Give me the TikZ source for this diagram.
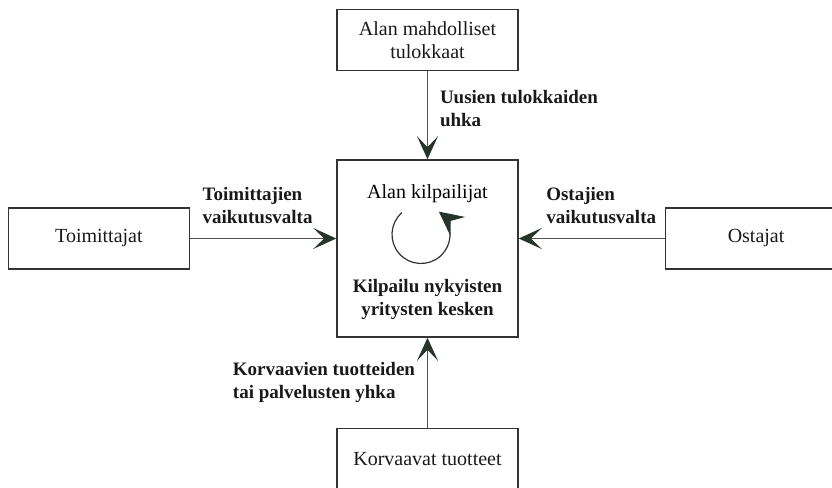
\documentclass[tikz,border=0pt]{standalone}
\usepackage{fontspec}
\setmainfont{Liberation Serif}
\usetikzlibrary{arrows.meta,positioning}
\usepackage{xcolor}
\definecolor{karki}{HTML}{26342B}
\definecolor{viiva}{HTML}{333333}

\begin{document}
\begin{tikzpicture}[
  node distance=45pt,
  laatikko/.style={rectangle, draw=viiva, line width=0.8pt, minimum width=90.5pt, minimum height=30.5pt, align=center, text=black!90, font=\rmfamily\fontsize{10}{11.7}\selectfont},
  nuoli/.style={-{Stealth[length=11.5pt, width=10.5pt, inset=5.5pt, color=karki]}, draw=viiva!85, line width=0.5pt},
  selite/.style={font=\rmfamily\bfseries\fontsize{9.5}{11.5}\selectfont, align=left, inner sep=1pt, text=black!90}
]
\useasboundingbox (0,0) rectangle (416pt,244pt);
\clip (0,0) rectangle (416pt,244pt);
\node[laatikko, minimum height=88.5pt] (k) at (213.75pt,119.75pt) {};
\node[laatikko, above=44pt of k] (u) {Alan mahdolliset\\tulokkaat};
\node[laatikko, left=73pt of k, yshift=5pt] (t) {Toimittajat};
\node[laatikko, right=73pt of k, yshift=5pt] (o) {Ostajat};
\node[laatikko, below=45pt of k] (s) {Korvaavat tuotteet};
% keskilaatikon sisalto
\node[below=9pt of k.north, font=\rmfamily\fontsize{10}{11.7}\selectfont] (k1) {Alan kilpailijat};
\node[above=8pt of k.south, selite, align=center] (k2) {Kilpailu nykyisten\\yritysten kesken};
\coordinate (kierto) at ([shift={(-3.25pt,7pt)}]k.center);
\draw[-{Stealth[length=12pt, width=12pt, inset=4.5pt, color=karki]}, line width=0.6pt, draw=viiva]
  ([shift={(131:14.5pt)}]kierto) arc[start angle=131, end angle=412, radius=14.5pt];
% nuolet
\draw[nuoli] (u) -- node[selite, right=5pt, pos=0.42] {Uusien tulokkaiden\\uhka} (k);
\draw[nuoli] (t) -- node[selite, above right=6pt and 5pt, pos=0] {Toimittajien\\vaikutusvalta} (t -| k.west);
\draw[nuoli] (o) -- node[selite, above right=6pt and 12.5pt, pos=1] {Ostajien\\vaikutusvalta} (o -| k.east);
\draw[nuoli] (s) -- node[selite, left=5pt, pos=0.5] {Korvaavien tuotteiden\\tai palvelusten yhka} (k);
\end{tikzpicture}
\end{document}
